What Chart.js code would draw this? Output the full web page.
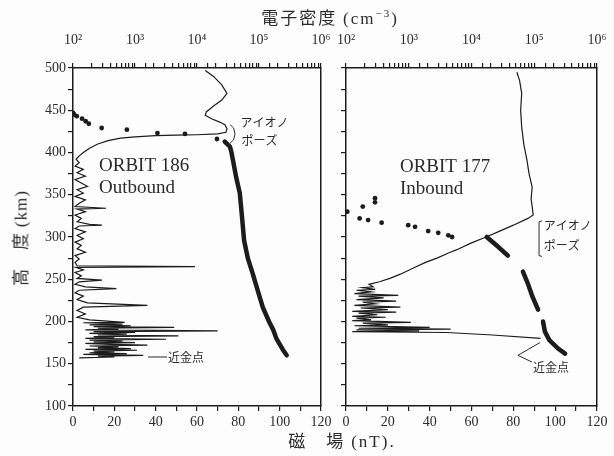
<!DOCTYPE html>
<html>
<head>
<meta charset="utf-8">
<script src="https://cdn.jsdelivr.net/npm/chart.js@4"></script>
<style>
  html, body { margin: 0; padding: 0; background: #fff; }
  #wrap { position: relative; width: 614px; height: 456px; overflow: hidden; background: #fdfdfd; }
  canvas { position: absolute; top: 0; }
  #left { left: 0; }
  #right { left: 330px; }
  .t { position: absolute; color: #2b2b2b; white-space: nowrap; transform: translate(-50%, -50%);
       font-family: "Noto Sans CJK JP", "Liberation Serif", serif; font-size: 17px; line-height: 1; }
  .t span { font-family: "Liberation Serif", serif; font-size: 17px; }
  .t sup { font-size: 11px; }
</style>
</head>
<body>
<div id="wrap">
  <canvas id="left" width="340" height="456"></canvas>
  <canvas id="right" width="284" height="456"></canvas>
  <div class="t" style="left:330px;top:17px;letter-spacing:2px;">電子密度 <span>(cm<sup>−3</sup>)</span></div>
  <div class="t" style="left:342px;top:440px;letter-spacing:2px;">磁　場 <span>(nT).</span></div>
  <div class="t" style="left:20px;top:238px;letter-spacing:1px;transform:translate(-50%,-50%) rotate(-90deg);">高　度 <span>(km)</span></div>
</div>
<script>
// ---- ORBIT 186 (outbound) ----
// magnetic field: altitude (km) / field (nT)
const leftAlt = [
  497, 490, 480, 470, 462, 455, 448, 444, 440, 436, 433, 428, 424,
  422, 421, 420.5, 420, 418.5, 417, 414, 410, 405, 400, 396, 392,
  388, 384, 380, 376, 372, 368, 364, 360, 356, 352, 348, 344, 340, 336,
  334, 333, 330, 326, 322, 318, 315, 314, 313, 310, 306, 302, 298, 294, 290, 286, 282, 278, 274, 270, 266,
  265, 264, 261, 258, 254, 251, 249, 247, 244, 241, 239, 237, 234, 230, 226, 222, 219, 217, 213, 209, 205, 202,
  199, 198.5, 197, 196, 195, 194, 193, 192, 191, 190, 189, 188, 187, 186, 185, 184, 183, 182, 181, 180,
  179, 178, 177, 176, 175, 174, 173, 172, 171, 170, 169, 168, 167, 166, 165, 164, 163, 162, 161, 160, 159, 158, 157
];
const leftB = [
  64, 68, 72, 74.5, 72, 68, 64.5, 64, 67, 71, 73.5, 74.5, 74,
  70, 60, 50, 40, 30, 23, 17, 12, 8, 5, 3, 1.5,
  3, 1, 5, 2, 6, 1, 4, 7, 2, 5, 1, 6, 3, 1,
  16, 2, 6, 1, 4, 2, 8, 14, 3, 1, 6, 2, 5, 1, 4, 2, 6, 1, 3, 1, 2,
  59, 1.5, 5, 1, 4, 2, 14, 3, 1, 6, 21, 3, 1, 5, 2, 7, 36, 5, 2, 6, 2, 8,
  25, 5, 24, 8, 28, 10, 49, 12, 22, 6, 70, 10, 30, 8, 26, 12, 51, 10, 20, 6,
  45, 8, 24, 10, 30, 6, 18, 36, 8, 22, 12, 28, 6, 31, 10, 20, 8, 26, 5, 34, 12, 20, 3
];
// electron density above the ionopause (dots)
const leftDotAlt = [447, 445, 443, 440, 437, 434, 429, 427, 423, 422, 416];
const leftDotNe = [100, 104, 115, 140, 160, 180, 290, 740, 2300, 6400, 21000];
// electron density below the ionopause (bold)
const leftNeAlt = [413, 407, 400, 391, 370, 352, 325, 296, 275, 257, 237, 217, 200, 190, 180, 172, 165, 160];
const leftNe = [28000, 34000, 36000, 38000, 43000, 49000, 53000, 57500, 66000, 79000, 95000, 115000, 145000, 170000, 190000, 220000, 250000, 280000];

// ---- ORBIT 177 (inbound) ----
const rightAlt = [
  495, 485, 470, 450, 430, 410, 391, 375, 359, 345, 336, 326, 322, 314, 307, 300, 293, 285, 281, 275, 270, 263, 256, 251, 247, 244, 241,
  240, 238, 237, 235, 233, 231, 230, 228, 226, 224, 223, 221, 219, 217, 216, 214, 212, 211, 210, 208, 206, 205, 204, 202, 201, 199, 198, 196, 195, 193, 192, 191, 190, 189, 188,
  187, 184, 180
];
const rightB = [
  81.7, 83, 84, 83.5, 84, 85, 86.5, 87.5, 89, 88.5, 89, 89.5, 87, 80, 73.5, 67, 60, 53, 49, 43.5, 38, 32, 26, 21, 16, 11, 13,
  8, 14, 5, 12, 4, 25, 6, 18, 5, 24, 8, 14, 4, 26, 7, 20, 3, 24, 6, 15, 3, 19, 5, 12, 3, 31, 8, 20, 4, 40, 6, 50, 5, 35, 3,
  48, 70, 93
];
const rightDotAlt = [346, 341, 336, 330, 322, 320, 317, 314, 312, 307, 305, 302, 300];
const rightDotNe = [290, 290, 185, 105, 165, 225, 370, 980, 1260, 2040, 2950, 4270, 4900];
// null = gap in the measured profile
const rightNeAlt = [300, 289, 278, null, 259, 245, 230, 214, null, 200, 188, 178, 168, 162];
const rightNe = [17500, 26000, 38000, null, 66000, 79000, 93000, 115000, null, 138000, 148000, 174000, 240000, 310000];

// axis ticks
const altTicks = [100, 150, 200, 250, 300, 350, 400, 450, 500];
const fieldTicks = [0, 20, 40, 60, 80, 100, 120];
const densityTicks = ['10²', '10³', '10⁴', '10⁵', '10⁶'];

const INK = '#1c1c1c';
const TXT = '#2b2b2b';
Chart.defaults.font.family = '"Liberation Serif", serif';
Chart.defaults.font.size = 14;
Chart.defaults.color = TXT;

function pairs(ys, xs) {
  return ys.map((y, i) => ({ x: xs[i], y: y }));
}

// text labels and leader lines placed in data units
const notes = {
  id: 'notes',
  afterDatasetsDraw(chart, args, opts) {
    const { ctx } = chart;
    const x = chart.scales.x, y = chart.scales.y;
    ctx.save();
    ctx.fillStyle = TXT;
    ctx.strokeStyle = TXT;
    ctx.lineWidth = 1;
    ctx.textAlign = 'left';
    ctx.textBaseline = 'middle';
    (opts.texts || []).forEach(t => {
      ctx.font = t.font;
      ctx.fillText(t.text, x.getPixelForValue(t.b), y.getPixelForValue(t.alt));
    });
    (opts.lines || []).forEach(l => {
      ctx.beginPath();
      l.forEach((p, i) => {
        const px = x.getPixelForValue(p[0]), py = y.getPixelForValue(p[1]);
        if (i === 0) ctx.moveTo(px, py); else ctx.lineTo(px, py);
      });
      ctx.stroke();
    });
    ctx.restore();
  }
};

function makePanel(id, cfg) {
  const grid = { display: true, drawOnChartArea: false, drawTicks: true, tickLength: 5, color: INK, lineWidth: 1.2 };
  const border = { display: true, color: INK, width: 1.5 };
  new Chart(document.getElementById(id), {
    type: 'scatter',
    data: {
      datasets: [
        {
          data: pairs(cfg.bAlt, cfg.b),
          showLine: true, borderColor: INK, borderWidth: 1.2, pointRadius: 0, tension: 0
        },
        {
          data: pairs(cfg.dotAlt, cfg.dotNe), xAxisID: 'x2',
          showLine: false, pointRadius: 2.4, backgroundColor: INK, borderWidth: 0
        },
        {
          data: pairs(cfg.neAlt, cfg.ne), xAxisID: 'x2',
          showLine: true, spanGaps: false, borderColor: INK, borderWidth: 4.5, borderCapStyle: 'round',
          pointRadius: 0, tension: 0
        }
      ]
    },
    options: {
      responsive: false,
      animation: false,
      layout: { padding: { left: 0, right: cfg.padRight, top: 0, bottom: 0 } },
      plugins: {
        legend: { display: false },
        tooltip: { enabled: false },
        notes: cfg.notes
      },
      scales: {
        x: {
          type: 'linear', position: 'bottom',
          min: fieldTicks[0], max: fieldTicks[fieldTicks.length - 1],
          grid: grid, border: border,
          ticks: {
            stepSize: 10, autoSkip: false, maxRotation: 0, padding: 3,
            callback: v => fieldTicks.includes(v) ? String(v) : ''
          },
          afterFit: s => { s.height = 50; s.paddingLeft = 0; s.paddingRight = 0; }
        },
        x2: {
          type: 'logarithmic', position: 'top',
          min: 100, max: 1000000,
          grid: grid, border: border,
          ticks: {
            autoSkip: false, maxRotation: 0, padding: 14,
            callback: v => {
              const e = Math.round(Math.log10(v));
              return Math.abs(Math.pow(10, e) - v) < 1e-6 * v ? densityTicks[e - 2] : '';
            }
          },
          afterFit: s => { s.height = 68; s.paddingLeft = 0; s.paddingRight = 0; }
        },
        y: {
          type: 'linear', position: 'left',
          min: altTicks[0], max: altTicks[altTicks.length - 1],
          grid: grid, border: border,
          ticks: {
            stepSize: 25, autoSkip: false, padding: 2,
            callback: v => (cfg.showAlt && altTicks.includes(v)) ? String(v) : ''
          },
          afterFit: s => { s.width = cfg.yWidth; s.paddingTop = 0; s.paddingBottom = 0; }
        },
        yR: {
          type: 'linear', position: 'right', min: 100, max: 500,
          grid: { display: false }, border: border,
          ticks: { display: false },
          afterFit: s => { s.width = 0; s.paddingTop = 0; s.paddingBottom = 0; }
        }
      }
    },
    plugins: [notes]
  });
}

const serif = '19px "Liberation Serif", serif';
const kana = '12px "Noto Sans CJK JP", sans-serif';

makePanel('left', {
  bAlt: leftAlt, b: leftB,
  dotAlt: leftDotAlt, dotNe: leftDotNe,
  neAlt: leftNeAlt, ne: leftNe,
  yWidth: 73, padRight: 19, showAlt: true,
  notes: {
    texts: [
      { text: 'ORBIT 186', b: 12.6, alt: 384, font: serif },
      { text: 'Outbound', b: 12.6, alt: 358, font: serif },
      { text: 'アイオノ', b: 81, alt: 436, font: kana },
      { text: 'ポーズ', b: 81.5, alt: 414, font: kana },
      { text: '近金点', b: 46, alt: 157, font: kana }
    ],
    lines: [
      [[36.3, 158], [45.5, 158]],
      [[76, 433], [77.7, 429], [78.4, 422], [77.7, 415], [76, 411]]
    ]
  }
});

makePanel('right', {
  bAlt: rightAlt, b: rightB,
  dotAlt: rightDotAlt, dotNe: rightDotNe,
  neAlt: rightNeAlt, ne: rightNe,
  yWidth: 16, padRight: 17, showAlt: false,
  notes: {
    texts: [
      { text: 'ORBIT 177', b: 25.8, alt: 383, font: serif },
      { text: 'Inbound', b: 25.8, alt: 357, font: serif },
      { text: 'アイオノ', b: 94.6, alt: 314, font: kana },
      { text: 'ポーズ', b: 94.6, alt: 290, font: kana },
      { text: '近金点', b: 89.4, alt: 146, font: kana }
    ],
    lines: [
      [[93.7, 319], [92.3, 318], [92.3, 278], [93.7, 277]],
      [[92.7, 175], [82.2, 160], [88.9, 152]]
    ]
  }
});
</script>
</body>
</html>
